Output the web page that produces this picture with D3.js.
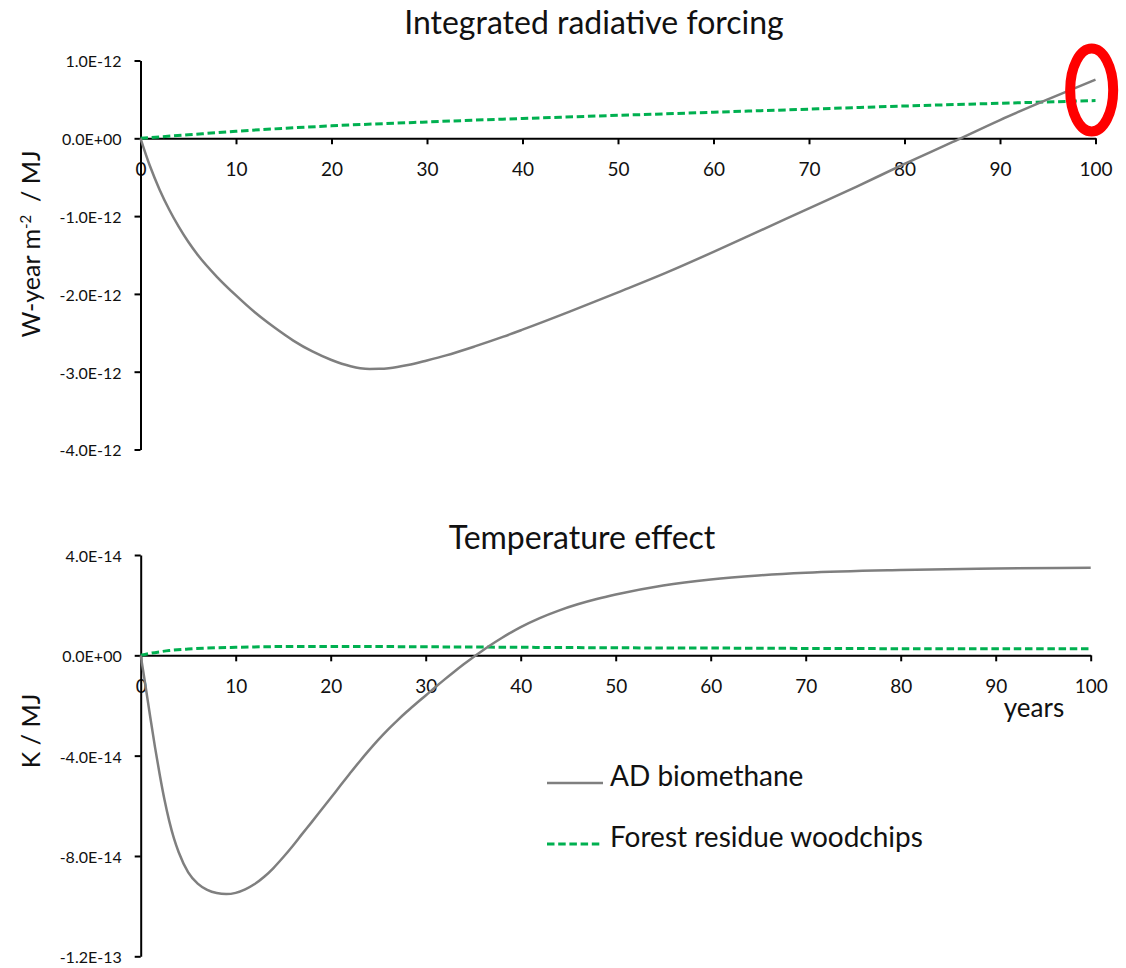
<!DOCTYPE html>
<html>
<head>
<meta charset="utf-8">
<script src="https://cdn.jsdelivr.net/npm/d3@7"></script>
<style>
  html, body { margin: 0; padding: 0; background: #fff; }
  svg text { font-family: Lato, "Open Sans", sans-serif; fill: #111; }
</style>
</head>
<body>
<svg id="chart" width="1126" height="968"></svg>
<script>
// ---- data (top panel values in 1E-12 W-year m-2 / MJ, bottom in 1E-14 K / MJ)
var adTopYears   = [0, 1, 2, 3, 4, 5, 6, 8, 10, 12, 14, 16, 18, 20, 22, 23, 24, 25, 26,
                    28, 30, 32, 35, 38, 40, 45, 50, 55, 60, 65, 70, 75, 80, 85, 90, 95, 100];
var adTopValues  = [0, -0.36, -0.66, -0.915, -1.135, -1.33, -1.50, -1.78, -2.02, -2.24,
                    -2.43, -2.60, -2.74, -2.85, -2.93, -2.955, -2.965, -2.963, -2.955,
                    -2.915, -2.855, -2.79, -2.675, -2.55, -2.46, -2.225, -1.98, -1.73,
                    -1.46, -1.18, -0.90, -0.62, -0.33, -0.05, 0.235, 0.50, 0.755];
var frTopYears   = [0, 5, 10, 20, 30, 40, 50, 60, 70, 80, 90, 100];
var frTopValues  = [0, 0.045, 0.09, 0.16, 0.21, 0.255, 0.295, 0.335, 0.375, 0.415, 0.45, 0.485];

var adBotYears   = [0, 0.5, 1, 1.5, 2, 2.5, 3, 3.5, 4, 5, 6, 7, 8, 9, 10, 11, 12, 13, 14, 15,
                    16, 17, 18, 19, 20, 21, 22, 23, 24, 25, 26, 27, 28, 29, 30, 31, 32, 33,
                    34, 35, 36, 37, 38, 39, 40, 42, 44, 46, 48, 50, 55, 60, 65, 70, 80, 90, 100];
var adBotValues  = [0, -1.2, -2.45, -3.65, -4.75, -5.75, -6.6, -7.3, -7.85, -8.65, -9.1, -9.35,
                    -9.48, -9.52, -9.47, -9.33, -9.12, -8.83, -8.47, -8.05, -7.6, -7.12, -6.65,
                    -6.17, -5.69, -5.2, -4.72, -4.25, -3.8, -3.37, -2.97, -2.6, -2.25, -1.92,
                    -1.6, -1.275, -0.96, -0.655, -0.36, -0.075, 0.195, 0.45, 0.69, 0.915,
                    1.125, 1.485, 1.785, 2.035, 2.245, 2.425, 2.785, 3.025, 3.185, 3.295,
                    3.405, 3.46, 3.49];
var frBotYears   = [0, 1, 2, 3, 5, 7, 10, 15, 20, 25, 30, 40, 50, 60, 70, 80, 90, 100];
var frBotValues  = [0, 0.08, 0.14, 0.19, 0.25, 0.29, 0.32, 0.35, 0.355, 0.35, 0.34, 0.32,
                    0.30, 0.29, 0.275, 0.265, 0.26, 0.26];

var xTicks         = [0, 10, 20, 30, 40, 50, 60, 70, 80, 90, 100];
var topTicks       = [1, 0, -1, -2, -3, -4];
var topTickLabels  = ["1.0E-12", "0.0E+00", "-1.0E-12", "-2.0E-12", "-3.0E-12", "-4.0E-12"];
var botTicks       = [4, 0, -4, -8, -12];
var botTickLabels  = ["4.0E-14", "0.0E+00", "-4.0E-14", "-8.0E-14", "-1.2E-13"];

var seriesNames  = ["AD biomethane", "Forest residue woodchips"];
var highlight    = { year: 99.6, value: 0.62 };   // red ring around the AD end point

var GREY = "#7f7f7f", GREEN = "#00b050";

var svg = d3.select("#chart");

/**
 * Draws one panel: axes, tick labels, title and the two series.
 */
function panel(opt) {
    var x = d3.scaleLinear().domain([0, 100]).range(opt.xr);
    var y = d3.scaleLinear().domain(opt.yd).range(opt.yr);
    var g = svg.append("g");

    // x axis sits on the zero line
    var ax = g.append("g")
        .attr("transform", "translate(0," + y(0) + ")")
        .call(d3.axisBottom(x).tickValues(xTicks).tickSizeInner(6).tickSizeOuter(0));
    ax.selectAll("text")
        .attr("y", 31).attr("dy", "0.35em")
        .style("font-size", "19px");

    // y axis
    var ay = g.append("g")
        .attr("transform", "translate(" + x(0) + ",0)")
        .call(d3.axisLeft(y).tickValues(opt.ticks).tickSizeInner(6).tickSizeOuter(0)
            .tickPadding(13)
            .tickFormat(function (d, i) { return opt.labels[i]; }));
    ay.selectAll("text").attr("dy", "0.4em").style("font-size", "16px");

    [ax, ay].forEach(function (a) {
        a.select(".domain").attr("stroke", "#000").attr("stroke-width", 2);
        a.selectAll(".tick line").attr("stroke", "#000").attr("stroke-width", 2);
        a.selectAll(".tick text").attr("fill", "#111");
    });

    var line = d3.line()
        .x(function (d) { return x(d[0]); })
        .y(function (d) { return y(d[1]); })
        .curve(d3.curveMonotoneX);

    // green dashed series first, grey on top
    g.append("path")
        .datum(d3.zip(opt.frX, opt.frY))
        .attr("d", line)
        .attr("fill", "none")
        .attr("stroke", GREEN)
        .attr("stroke-width", 3)
        .attr("stroke-dasharray", "7.5,3.7");
    g.append("path")
        .datum(d3.zip(opt.adX, opt.adY))
        .attr("d", line)
        .attr("fill", "none")
        .attr("stroke", GREY)
        .attr("stroke-width", 2.5);

    // panel title
    g.append("text")
        .attr("x", opt.titleX).attr("y", opt.titleY)
        .attr("text-anchor", "middle")
        .style("font-size", "32px")
        .text(opt.title);

    return { x: x, y: y, g: g };
}

var topPanel = panel({
    xr: [140.5, 1095.5], yd: [-4, 1], yr: [449.5, 60.5],
    ticks: topTicks, labels: topTickLabels,
    adX: adTopYears, adY: adTopValues, frX: frTopYears, frY: frTopValues,
    title: "Integrated radiative forcing", titleX: 594, titleY: 34
});

var botPanel = panel({
    xr: [140.7, 1090.7], yd: [-12, 4], yr: [956.3, 555],
    ticks: botTicks, labels: botTickLabels,
    adX: adBotYears, adY: adBotValues, frX: frBotYears, frY: frBotValues,
    title: "Temperature effect", titleX: 582, titleY: 549
});

// y axis titles (rotated)
var yt1 = svg.append("text")
    .attr("transform", "translate(40,244) rotate(-90)")
    .attr("text-anchor", "middle")
    .style("font-size", "25px");
yt1.append("tspan").text("W-year m");
yt1.append("tspan").attr("dy", -9).style("font-size", "15px").text("-2");
yt1.append("tspan").attr("dy", 9).text("\u00a0 / MJ");

svg.append("text")
    .attr("transform", "translate(40,731) rotate(-90)")
    .attr("text-anchor", "middle")
    .style("font-size", "25px")
    .text("K / MJ");

// x axis label of the bottom panel
svg.append("text")
    .attr("x", 1034).attr("y", 717)
    .attr("text-anchor", "middle")
    .style("font-size", "26px")
    .text("years");

// legend
var legend = svg.append("g").attr("transform", "translate(547,783)");
seriesNames.forEach(function (name, i) {
    var row = legend.append("g").attr("transform", "translate(0," + (i * 61) + ")");
    row.append("line")
        .attr("x1", 0).attr("x2", 56).attr("y1", 0).attr("y2", 0)
        .attr("stroke", i === 0 ? GREY : GREEN)
        .attr("stroke-width", i === 0 ? 2.5 : 3)
        .attr("stroke-dasharray", i === 0 ? null : "7.5,3.7");
    row.append("text")
        .attr("x", 63).attr("y", 2.5)
        .style("font-size", "28px")
        .text(name);
});

// red ring annotation at the end of the AD curve
svg.append("ellipse")
    .attr("cx", topPanel.x(highlight.year))
    .attr("cy", topPanel.y(highlight.value))
    .attr("rx", 21.5).attr("ry", 41.5)
    .attr("fill", "none")
    .attr("stroke", "#ff0000")
    .attr("stroke-width", 10);
</script>
</body>
</html>
